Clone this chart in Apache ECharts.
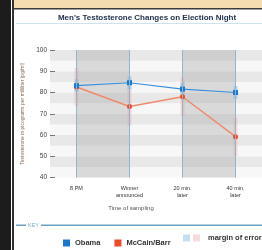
<!DOCTYPE html>
<html>
<head>
<meta charset="utf-8">
<script src="https://cdn.jsdelivr.net/npm/echarts@6/dist/echarts.min.js"></script>
<style>
  html, body { margin: 0; padding: 0; background: #fff; }
  #chart { width: 262px; height: 250px; }
</style>
</head>
<body>
<div id="chart"></div>
<script>
var categories = ["8 PM", "Winner\nannounced", "20 min.\nlater", "40 min.\nlater"];
var obama = [83.2, 84.6, 81.6, 80.0];
var mccain = [82.6, 73.4, 78.0, 59.2];
// margin of error (half width) per point
var obamaErr = [3, 3, 3, 3];
var mccainErr = [9, 9, 9, 9];
var yTicks = [40, 100, 10];

var chart = echarts.init(document.getElementById("chart"), null, { renderer: "canvas" });

var font = "Liberation Sans";

function errorSeries(name, values, errs, color) {
  return {
    name: name,
    type: "custom",
    z: 1,
    silent: true,
    renderItem: function (params, api) {
      var x = api.value(0);
      var top = api.coord([x, api.value(1) + api.value(2)]);
      var bot = api.coord([x, api.value(1) - api.value(2)]);
      return {
        type: "rect",
        shape: { x: top[0] - 2, y: top[1], width: 4, height: bot[1] - top[1] },
        style: { fill: color }
      };
    },
    data: values.map(function (v, i) { return [i, v, errs[i]]; })
  };
}

var option = {
  animation: false,
  textStyle: { fontFamily: font },
  title: {
    text: "Men's Testosterone Changes on Election Night",
    left: 142,
    textAlign: "center",
    top: 9,
    textStyle: { fontSize: 8, fontWeight: "bold", color: "#22334f", fontFamily: font }
  },
  legend: {
    left: 58,
    top: 234,
    itemWidth: 7,
    itemHeight: 7,
    itemGap: 14,
    icon: "rect",
    textStyle: { fontSize: 7.5, fontWeight: "bold", color: "#333", fontFamily: font },
    data: ["Obama", "McCain/Barr"]
  },
  grid: { left: 50, top: 50, width: 214, height: 127.5 },
  xAxis: {
    type: "category",
    data: categories,
    boundaryGap: true,
    name: "Time of sampling",
    nameLocation: "middle",
    nameGap: 28,
    nameTextStyle: { fontSize: 6, color: "#555", fontFamily: font, padding: [0, 0, 0, -50] },
    axisLine: { show: false },
    axisTick: { show: false },
    axisLabel: { fontSize: 5.5, color: "#333", lineHeight: 7, margin: 7, fontFamily: font }
  },
  yAxis: [
    {
      type: "value",
      min: yTicks[0],
      max: yTicks[1],
      interval: yTicks[2],
      name: "Testosterone in picograms per milliliter (pg/ml)",
      nameLocation: "middle",
      nameGap: 25,
      nameTextStyle: { fontSize: 5, color: "#8a6a55", fontFamily: font },
      axisLine: { show: false },
      axisTick: { show: true, inside: true, length: 5, lineStyle: { color: "#777" } },
      axisLabel: { fontSize: 6.5, color: "#444", margin: 3, fontFamily: font },
      splitLine: { show: false }
    },
    {
      type: "value",
      min: 40,
      max: 100,
      interval: 5,
      show: true,
      axisLine: { show: false },
      axisTick: { show: false },
      axisLabel: { show: false },
      splitLine: { show: false },
      splitArea: { show: true, areaStyle: { color: ["#f7f7f7", "#e8e8e8"] } }
    }
  ],
  graphic: {
    elements: [
      { id: "strip", type: "rect", shape: { x: 0, y: 0, width: 11, height: 250 }, style: { fill: "#1c1c1c" } },
      { id: "border", type: "rect", shape: { x: 12, y: 0, width: 2, height: 250 }, style: { fill: "#333" } },
      { id: "band", type: "rect", shape: { x: 14, y: 0, width: 248, height: 8 }, style: { fill: "#f4dbb0" } },
      { id: "bandLine", type: "rect", shape: { x: 14, y: 8, width: 248, height: 1.5 }, style: { fill: "#3a3a3a" } },
      { id: "titleLine", type: "rect", shape: { x: 16, y: 23, width: 246, height: 1 }, style: { fill: "#cfe3ee" } },
      { id: "keyLine", type: "rect", z: 100, shape: { x: 16, y: 224.5, width: 246, height: 1.5 }, style: { fill: "#6d9fc2" } },
      { id: "keyText", type: "text", x: 26, y: 222, z: 101, style: { text: "KEY", fontSize: 5.5, fill: "#7aaccc", fontFamily: font, backgroundColor: "#fff", padding: [0, 2] } },
      { id: "moeBlue", type: "rect", shape: { x: 183, y: 234.5, width: 7, height: 7 }, style: { fill: "#c5def0" } },
      { id: "moePink", type: "rect", shape: { x: 193, y: 234.5, width: 7, height: 7 }, style: { fill: "#f4dcdc" } },
      { id: "moeText", type: "text", x: 208, y: 234, style: { text: "margin of error", fontSize: 7.5, fontWeight: "bold", fill: "#333", fontFamily: font } }
    ]
  },
  series: [
    errorSeries("mccainErr", mccain, mccainErr, "rgba(240,150,140,0.3)"),
    errorSeries("obamaErr", obama, obamaErr, "rgba(130,185,230,0.55)"),
    {
      name: "McCain/Barr",
      type: "line",
      data: mccain,
      z: 3,
      symbol: "circle",
      symbolSize: 5,
      itemStyle: { color: "#ee4a2a" },
      lineStyle: { color: "#f08a6c", width: 1.5 },
      markArea: {
        silent: true,
        itemStyle: { color: "rgba(150,150,150,0.3)" },
        data: [
          [{ xAxis: categories[0] }, { xAxis: categories[1] }],
          [{ xAxis: categories[2] }, { xAxis: categories[3] }]
        ]
      }
    },
    {
      name: "Obama",
      type: "line",
      data: obama,
      z: 4,
      symbol: "rect",
      symbolSize: 5,
      itemStyle: { color: "#1a78cc" },
      lineStyle: { color: "#3a90dc", width: 1.2 },
      markLine: {
        silent: true,
        symbol: "none",
        label: { show: false },
        lineStyle: { color: "#8fb5d0", width: 1, type: "solid" },
        data: categories.map(function (c) { return { xAxis: c }; })
      }
    }
  ]
};

chart.setOption(option);
</script>
</body>
</html>
